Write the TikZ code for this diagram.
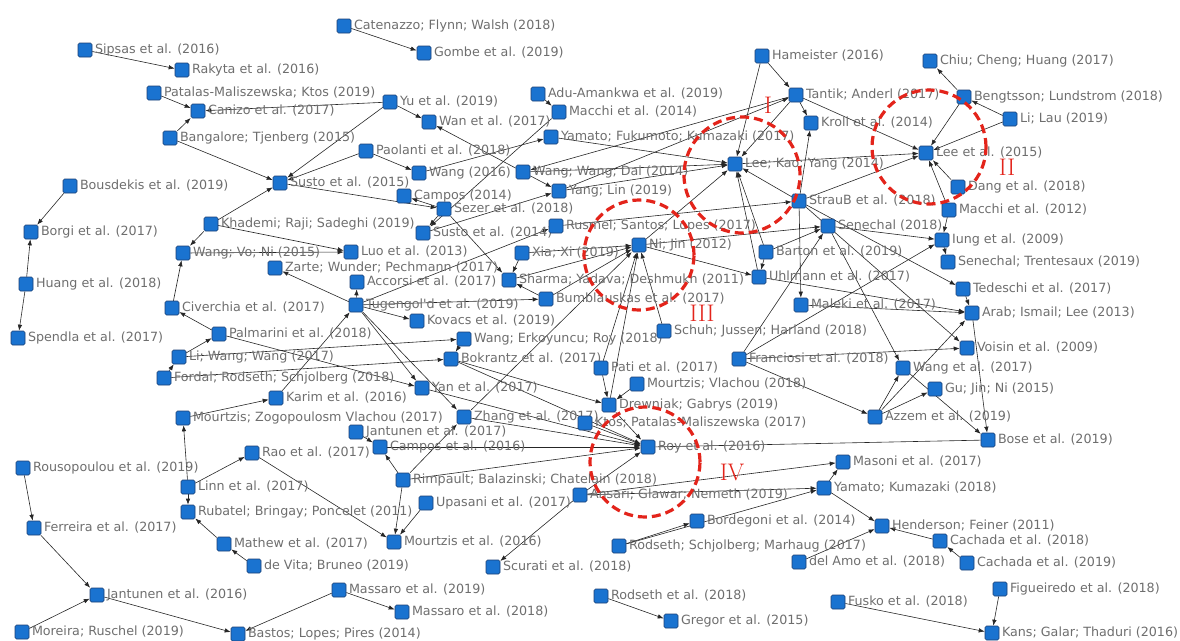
\documentclass[tikz,border=0pt]{standalone}
\usepackage{fontspec}
\newfontfamily\dejavu{DejaVu Sans}
\usetikzlibrary{arrows.meta}
\definecolor{nodeblue}{HTML}{1A73D0}
\definecolor{nodeedge}{HTML}{1B3F73}
\definecolor{txtgray}{HTML}{6E6E6E}
\definecolor{ringred}{HTML}{E3241B}
\pgfdeclarelayer{edges}
\pgfdeclarelayer{rings}
\pgfsetlayers{edges,main,rings}
\begin{document}
\begin{tikzpicture}[x=1pt,y=-1pt,label distance=2.5pt,
	paper/.style={rectangle,rounded corners=1.5pt,fill=nodeblue,draw=nodeedge,line width=.6pt,minimum size=14pt,inner sep=0pt},
	every label/.style={text=txtgray,font=\dejavu\fontsize{12.7}{14}\selectfont,inner sep=0pt},
	cite/.style={draw=black!85,line width=.6pt,-{Latex[length=6pt,width=4.5pt]}},
	plain/.style={draw=black!85,line width=.6pt},
	ring/.style={draw=ringred,line width=3.2pt,dash pattern=on 9pt off 5pt},
	roman/.style={text=ringred,font=\fontsize{24}{24}\selectfont,inner sep=0pt}]
	\useasboundingbox (0,0) rectangle (1180,640);
	% left column
	\node[paper, label=right:{Sipsas et al. (2016)}] (sipsas) at (85,50) {};
	\node[paper, label=right:{Rakyta et al. (2016)}] (rakyta) at (182,70) {};
	\node[paper, label=right:{Patalas-Maliszewska; Ktos (2019)}] (patalas) at (154,93) {};
	\node[paper, label=right:{Canizo et al. (2017)}] (canizo) at (198,111) {};
	\node[paper, label=right:{Bangalore; Tjenberg (2015)}] (bangalore) at (170,138) {};
	\node[paper, label=right:{Susto et al. (2015)}] (susto15) at (280,183) {};
	\node[paper, label=right:{Bousdekis et al. (2019)}] (bousdekis) at (70,186) {};
	\node[paper, label=right:{Borgi et al. (2017)}] (borgi) at (31,232) {};
	\node[paper, label=right:{Huang et al. (2018)}] (huang) at (26,284) {};
	\node[paper, label=right:{Spendla et al. (2017)}] (spendla) at (18,338) {};
	\node[paper, label=right:{Khademi; Raji; Sadeghi (2019)}] (khademi) at (211,224) {};
	\node[paper, label=right:{Wang; Vo; Ni (2015)}] (wangvoni) at (183,253) {};
	\node[paper, label=right:{Zarte; Wunder; Pechmann (2017)}] (zarte) at (275,268) {};
	\node[paper, label=right:{Civerchia et al. (2017)}] (civerchia) at (172,308) {};
	\node[paper, label=right:{Palmarini et al. (2018)}] (palmarini) at (219,334) {};
	\node[paper, label=right:{Li; Wang; Wang (2017)}] (liwang) at (179,357) {};
	\node[paper, label=right:{Fordal; Rodseth; Schjolberg (2018)}] (fordal) at (164,378) {};
	\node[paper, label=right:{Karim et al. (2016)}] (karim) at (276,398) {};
	\node[paper, label=right:{Mourtzis; Zogopoulosm Vlachou (2017)}] (mourtzisz) at (183,418) {};
	\node[paper, label=right:{Rousopoulou et al. (2019)}] (rousopoulou) at (23,468) {};
	\node[paper, label=right:{Ferreira et al. (2017)}] (ferreira) at (34,528) {};
	\node[paper, label=right:{Jantunen et al. (2016)}] (jantunen16) at (97,595) {};
	\node[paper, label=right:{Moreira; Ruschel (2019)}] (moreira) at (22,632) {};
	\node[paper, label=right:{Bastos; Lopes; Pires (2014)}] (bastos) at (238,634) {};
	\node[paper, label=right:{Rao et al. (2017)}] (rao) at (252,453) {};
	\node[paper, label=right:{Linn et al. (2017)}] (linn) at (188,487) {};
	\node[paper, label=right:{Rubatel; Bringay; Poncelet (2011)}] (rubatel) at (188,512) {};
	\node[paper, label=right:{Mathew et al. (2017)}] (mathew) at (224,544) {};
	\node[paper, label=right:{de Vita; Bruneo (2019)}] (devita) at (254,566) {};
	% middle
	\node[paper, label=right:{Catenazzo; Flynn; Walsh (2018)}] (catenazzo) at (344,26) {};
	\node[paper, label=right:{Gombe et al. (2019)}] (gombe) at (424,53) {};
	\node[paper, label=right:{Yu et al. (2019)}] (yu) at (390,102) {};
	\node[paper, label=right:{Wan et al. (2017)}] (wan) at (429,122) {};
	\node[paper, label=right:{Paolanti et al. (2018)}] (paolanti) at (366,151) {};
	\node[paper, label=right:{Wang (2016)}] (wang16) at (419,173) {};
	\node[paper, label=right:{Campos (2014)}] (campos14) at (404,196) {};
	\node[paper, label=right:{Sezer et al. (2018)}] (sezer) at (444,209) {};
	\node[paper, label=right:{Susto et al. (2014)}] (susto14) at (423,233) {};
	\node[paper, label=right:{Luo et al. (2013)}] (luo) at (351,252) {};
	\node[paper, label=right:{Accorsi et al. (2017)}] (accorsi) at (357,282) {};
	\node[paper, label=right:{Tugengol'd et al. (2019)}] (tugengold) at (356,305) {};
	\node[paper, label=right:{Kovacs et al. (2019)}] (kovacs) at (417,321) {};
	\node[paper, label=right:{Wang; Erkoyuncu; Roy (2018)}] (wangerk) at (464,339) {};
	\node[paper, label=right:{Bokrantz et al. (2017)}] (bokrantz) at (451,359) {};
	\node[paper, label=right:{Yan et al. (2017)}] (yan) at (422,388) {};
	\node[paper, label=right:{Zhang et al. (2017)}] (zhang) at (464,417) {};
	\node[paper, label=right:{Jantunen et al. (2017)}] (jantunen17) at (356,432) {};
	\node[paper, label=right:{Campos et al. (2016)}] (campos16) at (380,447) {};
	\node[paper, label=right:{Rimpault; Balazinski; Chatelain (2018)}] (rimpault) at (403,480) {};
	\node[paper, label=right:{Upasani et al. (2017)}] (upasani) at (426,503) {};
	\node[paper, label=right:{Mourtzis et al. (2016)}] (mourtzis16) at (394,542) {};
	\node[paper, label=right:{Scurati et al. (2018)}] (scurati) at (493,567) {};
	\node[paper, label=right:{Massaro et al. (2019)}] (massaro19) at (339,590) {};
	\node[paper, label=right:{Massaro et al. (2018)}] (massaro18) at (402,612) {};
	\node[paper, label=right:{Adu-Amankwa et al. (2019)}] (adu) at (538,94) {};
	\node[paper, label=right:{Macchi et al. (2014)}] (macchi14) at (559,112) {};
	\node[paper, label=right:{Yamato; Fukumoto; Kumazaki (2017)}] (yamatof) at (551,137) {};
	\node[paper, label=right:{Wang; Wang; Dai (2014)}] (wwd) at (523,172) {};
	\node[paper, label=right:{Yang; Lin (2019)}] (yanglin) at (559,191) {};
	\node[paper, label=right:{Rusmel; Santos; Lopes (2017)}] (rusmel) at (556,226) {};
	\node[paper, label=right:{Xia; Xi (2019)}] (xia) at (522,253) {};
	\node[paper, label=right:{Sharma; Yadava; Deshmukh (2011)}] (sharma) at (509,280) {};
	\node[paper, label=right:{Bumblauskas et al. (2017)}] (bumblauskas) at (546,299) {};
	\node[paper, label=right:{Ni; Jin (2012)}] (nijin) at (639,245) {};
	\node[paper, label=right:{Schuh; Jussen; Harland (2018)}] (schuh) at (664,331) {};
	\node[paper, label=right:{Pati et al. (2017)}] (pati) at (601,368) {};
	\node[paper, label=right:{Mourtzis; Vlachou (2018)}] (mourtzisv) at (637,384) {};
	\node[paper, label=right:{Drewniak; Gabrys (2019)}] (drewniak) at (609,405) {};
	\node[paper, label=right:{Ktos; Patalas-Maliszewska (2017)}] (ktos) at (585,423) {};
	\node[paper, label=right:{Roy et al. (2016)}] (roy) at (648,447) {};
	\node[paper, label=right:{Ansari; Glawar; Nemeth (2019)}] (ansari) at (580,495) {};
	\node[paper, label=right:{Bordegoni et al. (2014)}] (bordegoni) at (697,521) {};
	\node[paper, label=right:{Rodseth; Schjolberg; Marhaug (2017)}] (rsm) at (619,546) {};
	\node[paper, label=right:{Rodseth et al. (2018)}] (rodseth18) at (601,596) {};
	\node[paper, label=right:{Gregor et al. (2015)}] (gregor) at (671,621) {};
	% right
	\node[paper, label=right:{Hameister (2016)}] (hameister) at (762,56) {};
	\node[paper, label=right:{Tantik; Anderl (2017)}] (tantik) at (796,95) {};
	\node[paper, label=right:{Kroll et al. (2014)}] (kroll) at (811,123) {};
	\node[paper, label=right:{Lee; Kao; Yang (2014)}] (leekao) at (735,164) {};
	\node[paper, label=right:{StrauB et al. (2018)}] (strauss) at (799,201) {};
	\node[paper, label=right:{Senechal (2018)}] (senechal) at (828,226) {};
	\node[paper, label=right:{Barton et al. (2019)}] (barton) at (766,252) {};
	\node[paper, label=right:{Uhlmann et al. (2017)}] (uhlmann) at (759,277) {};
	\node[paper, label=right:{Maleki et al. (2017)}] (maleki) at (801,305) {};
	\node[paper, label=right:{Franciosi et al. (2018)}] (franciosi) at (739,359) {};
	\node[paper, label=right:{Chiu; Cheng; Huang (2017)}] (chiu) at (930,61) {};
	\node[paper, label=right:{Bengtsson; Lundstrom (2018)}] (bengtsson) at (964,97) {};
	\node[paper, label=right:{Li; Lau (2019)}] (lilau) at (1010,119) {};
	\node[paper, label=right:{Lee et al. (2015)}] (lee15) at (926,153) {};
	\node[paper, label=right:{Dang et al. (2018)}] (dang) at (958,187) {};
	\node[paper, label=right:{Macchi et al. (2012)}] (macchi12) at (949,210) {};
	\node[paper, label=right:{Iung et al. (2009)}] (iung) at (942,240) {};
	\node[paper, label=right:{Senechal; Trentesaux (2019)}] (senechaltr) at (948,262) {};
	\node[paper, label=right:{Tedeschi et al. (2017)}] (tedeschi) at (963,289) {};
	\node[paper, label=right:{Arab; Ismail; Lee (2013)}] (arab) at (972,313) {};
	\node[paper, label=right:{Voisin et al. (2009)}] (voisin) at (967,348) {};
	\node[paper, label=right:{Wang et al. (2017)}] (wang17) at (903,368) {};
	\node[paper, label=right:{Gu; Jin; Ni (2015)}] (gu) at (935,389) {};
	\node[paper, label=right:{Azzem et al. (2019)}] (azzem) at (875,417) {};
	\node[paper, label=right:{Bose et al. (2019)}] (bose) at (988,440) {};
	\node[paper, label=right:{Masoni et al. (2017)}] (masoni) at (843,462) {};
	\node[paper, label=right:{Yamato; Kumazaki (2018)}] (yamatok) at (824,488) {};
	\node[paper, label=right:{Henderson; Feiner (2011)}] (henderson) at (882,526) {};
	\node[paper, label=right:{Cachada et al. (2018)}] (cachada18) at (940,541) {};
	\node[paper, label=right:{Cachada et al. (2019)}] (cachada19) at (967,563) {};
	\node[paper, label=right:{del Amo et al. (2018)}] (delamo) at (799,562) {};
	\node[paper, label=right:{Figueiredo et al. (2018)}] (figueiredo) at (1000,589) {};
	\node[paper, label=right:{Fusko et al. (2018)}] (fusko) at (838,602) {};
	\node[paper, label=right:{Kans; Galar; Thaduri (2016)}] (kans) at (992,633) {};

	\begin{pgfonlayer}{edges}
	\path[every edge/.style={cite}]
	(sipsas) edge (rakyta)
	(patalas) edge (canizo)
	(bangalore) edge (canizo)
	(bangalore) edge (susto15)
	(yu) edge (canizo)
	(yu) edge (susto15)
	(yu) edge (wan)
	(paolanti) edge (susto15)
	(paolanti) edge (wang16)
	(khademi) edge (susto15)
	(susto15) edge (sezer)
	(sezer) edge (campos14)
	(sezer) edge (susto14)
	(catenazzo) edge (gombe)
	(adu) edge (macchi14)
	(macchi14) edge (susto14)
	(wang16) edge (yamatof)
	(wwd) edge (wan)
	(wwd) edge (yanglin)
	(susto14) edge (yanglin)
	(yanglin) edge (tantik)
	(tantik) edge (wwd)
	(hameister) edge (leekao)
	(hameister) edge (tantik)
	(tantik) edge (kroll)
	(tantik) edge (leekao)
	(tantik) edge (lee15)
	(yamatof) edge (leekao)
	(wwd) edge (leekao)
	(yanglin) edge (leekao)
	(nijin) edge (leekao)
	(strauss) edge (leekao)
	(barton) edge (leekao)
	(uhlmann) edge (leekao)
	(leekao) edge (lee15)
	(strauss) edge (kroll)
	(bengtsson) edge (lee15)
	(lilau) edge (bengtsson)
	(lilau) edge (lee15)
	(bengtsson) edge (chiu)
	(strauss) edge (lee15)
	(dang) edge (lee15)
	(macchi12) edge (lee15)
	(macchi12) edge (iung)
	(senechal) edge (iung)
	(franciosi) edge (iung)
	(iung) edge (senechaltr)
	(strauss) edge (tedeschi)
	(tedeschi) edge (arab)
	(maleki) edge (arab)
	(strauss) edge (voisin)
	(strauss) edge (maleki)
	(franciosi) edge (voisin)
	(franciosi) edge (azzem)
	(senechal) edge (wang17)
	(azzem) edge (wang17)
	(azzem) edge (gu)
	(azzem) edge (arab)
	(wang17) edge (bose)
	(arab) edge (bose)
	(nijin) edge (uhlmann)
	(barton) edge (uhlmann)
	(nijin) edge (senechal)
	(rusmel) edge (strauss)
	(uhlmann) edge (arab)
	(barton) edge (senechal)
	(franciosi) edge (senechal)
	(schuh) edge (nijin)
	(sharma) edge (nijin)
	(bumblauskas) edge (nijin)
	(xia) edge (nijin)
	(pati) edge (nijin)
	(drewniak) edge (nijin)
	(zhang) edge (nijin)
	(xia) edge (sharma)
	(bumblauskas) edge (sharma)
	(tugengold) edge (bumblauskas)
	(tugengold) edge (rusmel)
	(sezer) edge (sharma)
	(tugengold) edge (zarte)
	(tugengold) edge (accorsi)
	(tugengold) edge (kovacs)
	(tugengold) edge (yan)
	(tugengold) edge (zhang)
	(karim) edge (tugengold)
	(mourtzisz) edge (karim)
	(khademi) edge (luo)
	(wangvoni) edge (luo)
	(khademi) edge (wangvoni)
	(civerchia) edge (wangvoni)
	(palmarini) edge (civerchia)
	(liwang) edge (palmarini)
	(fordal) edge (liwang)
	(palmarini) edge (yan)
	(liwang) edge (wangerk)
	(wangerk) edge (bokrantz)
	(fordal) edge (bokrantz)
	(bokrantz) edge (drewniak)
	(bokrantz) edge (roy)
	(yan) edge (roy)
	(zhang) edge (roy)
	(ktos) edge (roy)
	(drewniak) edge (roy)
	(campos16) edge (roy)
	(rimpault) edge (roy)
	(ansari) edge (roy)
	(pati) edge (drewniak)
	(mourtzisv) edge (drewniak)
	(rimpault) edge (zhang)
	(rimpault) edge (campos16)
	(jantunen17) edge (campos16)
	(rimpault) edge (mourtzis16)
	(upasani) edge (mourtzis16)
	(rao) edge (mourtzis16)
	(linn) edge (rao)
	(linn) edge (mourtzisz)
	(linn) edge (rubatel)
	(mathew) edge (rubatel)
	(devita) edge (mathew)
	(rousopoulou) edge (ferreira)
	(ferreira) edge (jantunen16)
	(moreira) edge (jantunen16)
	(jantunen16) edge (bastos)
	(massaro19) edge (bastos)
	(massaro19) edge (massaro18)
	(ansari) edge (scurati)
	(ansari) edge (masoni)
	(ansari) edge (yamatok)
	(yamatok) edge (masoni)
	(rsm) edge (yamatok)
	(rsm) edge (bordegoni)
	(yamatok) edge (henderson)
	(delamo) edge (henderson)
	(cachada18) edge (henderson)
	(cachada19) edge (cachada18)
	(rodseth18) edge (gregor)
	(fusko) edge (kans)
	(figueiredo) edge (kans)
	(bousdekis) edge (borgi)
	(huang) edge (borgi)
	(huang) edge (spendla);
	\draw[plain] (roy) -- (bose);
	\end{pgfonlayer}

	% highlighted clusters
	\begin{pgfonlayer}{rings}
	\draw[ring] (742,175) circle[radius=58pt];
	\draw[ring] (929,147) circle[radius=57pt];
	\draw[ring] (639,255) circle[radius=55pt];
	\draw[ring] (645,462) circle[radius=55pt];
	\node[roman] (ringI) at (768,105) {I};
	\node[roman] (ringII) at (1007,167) {II};
	\node[roman] (ringIII) at (702,313) {III};
	\node[roman] (ringIV) at (732,472) {IV};
	\end{pgfonlayer}
\end{tikzpicture}
\end{document}
